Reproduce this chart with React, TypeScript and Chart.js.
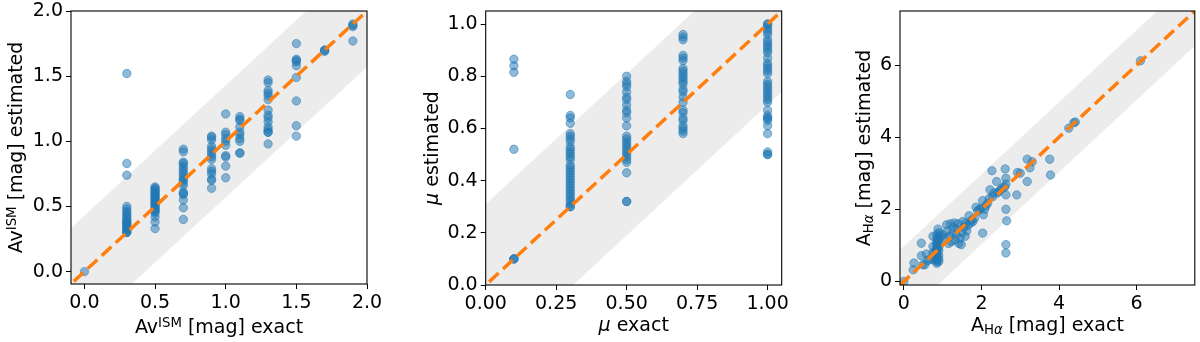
import React, { useEffect, useRef } from 'react';
import { Chart, registerables } from 'chart.js';

Chart.register(...registerables);

// ---------------- DATA ----------------
// Panel 1: Av^ISM exact levels and estimated values per level
const avExactLevels = [0.0, 0.3, 0.5, 0.7, 0.9, 1.0, 1.1, 1.3, 1.5, 1.7, 1.9];
const avEstimated = [
  [0.0],
  [1.52, 0.83, 0.74, 0.5, 0.48, 0.46, 0.45, 0.43, 0.42, 0.4, 0.39, 0.38, 0.37, 0.36, 0.35, 0.34, 0.33, 0.32, 0.31, 0.3, 0.3],
  [0.65, 0.64, 0.63, 0.62, 0.61, 0.6, 0.59, 0.58, 0.57, 0.56, 0.55, 0.54, 0.53, 0.52, 0.51, 0.5, 0.49, 0.48, 0.47, 0.46, 0.45, 0.42, 0.38, 0.33],
  [0.94, 0.92, 0.84, 0.83, 0.81, 0.79, 0.77, 0.75, 0.73, 0.71, 0.7, 0.68, 0.66, 0.61, 0.6, 0.59, 0.55, 0.49, 0.4],
  [1.04, 1.03, 1.01, 0.96, 0.94, 0.92, 0.9, 0.88, 0.86, 0.79, 0.77, 0.75, 0.71, 0.7, 0.64],
  [1.21, 1.07, 1.05, 1.02, 1.0, 0.97, 0.89, 0.88, 0.81, 0.72],
  [1.19, 1.17, 1.16, 1.11, 1.07, 1.05, 1.02, 1.0, 0.91, 0.91],
  [1.47, 1.45, 1.39, 1.37, 1.35, 1.32, 1.24, 1.2, 1.18, 1.15, 1.11, 1.09, 1.07, 1.07, 0.98],
  [1.75, 1.63, 1.62, 1.61, 1.58, 1.49, 1.31, 1.12, 1.04],
  [1.7, 1.7, 1.69],
  [1.9, 1.89, 1.88, 1.77],
];

// Panel 2: mu exact levels and estimated values per level
const muExactLevels = [0.1, 0.3, 0.5, 0.7, 1.0];
const muEstimated = [
  [0.865, 0.84, 0.815, 0.52, 0.1, 0.1, 0.1],
  [0.73, 0.65, 0.64, 0.62, 0.58, 0.57, 0.56, 0.55, 0.53, 0.52, 0.51, 0.5, 0.49, 0.48, 0.46, 0.45, 0.44, 0.43, 0.42, 0.41, 0.4, 0.39, 0.38, 0.37, 0.36, 0.35, 0.34, 0.33, 0.32, 0.31, 0.3, 0.3],
  [0.8, 0.78, 0.77, 0.76, 0.74, 0.72, 0.71, 0.69, 0.67, 0.66, 0.64, 0.61, 0.57, 0.56, 0.55, 0.54, 0.53, 0.52, 0.51, 0.5, 0.49, 0.48, 0.47, 0.43, 0.32, 0.32],
  [0.96, 0.95, 0.94, 0.88, 0.87, 0.86, 0.83, 0.82, 0.81, 0.8, 0.79, 0.78, 0.77, 0.75, 0.74, 0.72, 0.7, 0.67, 0.66, 0.64, 0.63, 0.61, 0.6, 0.59, 0.58],
  [1.0, 1.0, 0.99, 0.98, 0.97, 0.96, 0.94, 0.93, 0.92, 0.91, 0.9, 0.89, 0.87, 0.85, 0.84, 0.83, 0.82, 0.81, 0.78, 0.77, 0.76, 0.75, 0.74, 0.73, 0.72, 0.71, 0.7, 0.67, 0.65, 0.64, 0.64, 0.63, 0.61, 0.58, 0.51, 0.5, 0.5],
];

// Panel 3: A_Halpha exact / estimated pairs
const haExact = [
  0.0, 0.24, 0.26, 0.45, 0.45, 0.49, 0.54, 0.58, 0.62, 0.67, 0.75, 0.75, 0.75, 0.75, 0.79,
  0.85, 0.85, 0.85, 0.85, 0.85, 0.85, 0.85, 0.85, 0.85, 0.85, 0.85, 0.85, 0.85, 0.85,
  0.9, 0.9, 0.9, 0.9, 0.9, 0.9, 0.9, 0.9, 0.9, 0.88,
  0.97, 1.0, 1.05, 1.1, 1.12, 1.15, 1.18, 1.2, 1.22, 1.25, 1.28, 1.3, 1.32, 1.35, 1.38, 1.4,
  1.42, 1.45, 1.48, 1.5, 1.52, 1.55, 1.58, 1.6, 1.62, 1.65, 1.68, 1.72, 1.75, 1.78, 1.82,
  1.86, 1.9, 1.95, 1.99, 2.03, 2.03, 2.05, 2.08, 2.12, 2.16, 2.2, 2.22, 2.27, 2.29, 2.32,
  2.39, 2.41, 2.45, 2.5, 2.55, 2.6, 2.61, 2.63, 2.63, 2.63, 2.63, 2.65, 2.63, 2.63,
  2.91, 2.93, 3.0, 3.18, 3.18, 3.25, 3.31, 3.76, 3.78, 4.25, 4.38, 4.42, 6.1,
];
const haEstimated = [
  0.0, 0.32, 0.51, 1.06, 0.71, 0.46, 0.46, 0.76, 0.58, 0.62, 0.6, 0.8, 0.97, 1.25, 0.78,
  0.5, 0.55, 0.6, 0.65, 0.7, 0.76, 0.82, 0.88, 0.94, 1.0, 1.06, 1.12, 1.2, 1.3,
  0.55, 0.62, 0.72, 0.85, 0.95, 1.05, 1.15, 1.25, 1.35, 1.45,
  1.25, 1.3, 1.2, 1.57, 1.4, 1.05, 1.25, 1.6, 1.1, 1.35, 1.5, 1.62, 1.15, 1.3, 1.45, 1.6,
  1.05, 1.2, 1.02, 1.35, 1.66, 1.5, 1.25, 1.62, 1.4, 1.55, 1.82, 1.62, 1.7, 1.66, 1.75,
  2.06, 1.95, 2.0, 2.03, 1.34, 2.24, 1.85, 2.0, 2.1, 2.17, 2.3, 2.54, 3.07, 2.35, 2.45,
  2.77, 2.45, 2.5, 2.55, 2.6, 2.62, 3.12, 2.86, 2.7, 2.4, 2.0, 1.68, 1.02, 0.79,
  2.4, 3.02, 3.0, 3.39, 2.77, 3.15, 3.32, 3.39, 2.95, 4.25, 4.4, 4.42, 6.12,
];

// Axis ranges and ticks
const avRange = [-0.095, 2.0];
const avTicks = [0.0, 0.5, 1.0, 1.5, 2.0];
const muRange = [0.0, 1.05];
const muXTicks = [0.0, 0.25, 0.5, 0.75, 1.0];
const muYTicks = [0.0, 0.2, 0.4, 0.6, 0.8, 1.0];
const haRange = [-0.1, 7.5];
const haTicks = [0, 2, 4, 6];

// Tolerance band half-widths
const avBand = 0.43;
const muBand = 0.31;
const haBand = 0.97;

// ---------------- STYLE ----------------
const FONT = '"DejaVu Sans", sans-serif';
const FONT_SIZE = 19;
const POINT_COLOR = 'rgba(31,119,180,0.5)';
const LINE_COLOR = '#ff7f0e';
const BAND_COLOR = 'rgba(128,128,128,0.15)';

type Seg = { t: string; italic?: boolean; scale?: number; dy?: number };

function flatten(levels: number[], values: number[][]) {
  const pts: { x: number; y: number }[] = [];
  levels.forEach((lv, i) => values[i].forEach((v) => pts.push({ x: lv, y: v })));
  return pts;
}

function drawRich(ctx: CanvasRenderingContext2D, segs: Seg[], cx: number, cy: number, rotate: boolean) {
  ctx.save();
  ctx.fillStyle = '#000';
  ctx.textBaseline = 'alphabetic';
  ctx.textAlign = 'left';
  const fontFor = (s: Seg) => `${s.italic ? 'italic ' : ''}${FONT_SIZE * (s.scale || 1)}px ${FONT}`;
  let total = 0;
  const widths = segs.map((s) => {
    ctx.font = fontFor(s);
    const w = ctx.measureText(s.t).width;
    total += w;
    return w;
  });
  ctx.translate(cx, cy);
  if (rotate) ctx.rotate(-Math.PI / 2);
  let x = -total / 2;
  segs.forEach((s, i) => {
    ctx.font = fontFor(s);
    ctx.fillText(s.t, x, s.dy || 0);
    x += widths[i];
  });
  ctx.restore();
}

type PanelCfg = {
  points: { x: number; y: number }[];
  xRange: number[];
  yRange: number[];
  xTicks: number[];
  yTicks: number[];
  xDec: number;
  yDec: number;
  band: number;
  lineFrom: number;
  area: { L: number; R: number; T: number; B: number };
  xTitle: Seg[];
  yTitle: Seg[];
  xTitleY: number;
  yTitleX: number;
};

const SUP: Partial<Seg> = { scale: 0.7, dy: -6 };
const SUB: Partial<Seg> = { scale: 0.7, dy: 3 };

const panels: PanelCfg[] = [
  {
    points: flatten(avExactLevels, avEstimated),
    xRange: avRange,
    yRange: avRange,
    xTicks: avTicks,
    yTicks: avTicks,
    xDec: 1,
    yDec: 1,
    band: avBand,
    lineFrom: -0.075,
    area: { L: 71, R: 367, T: 11, B: 284 },
    xTitle: [{ t: 'Av' }, { t: 'ISM', ...SUP }, { t: ' [mag] exact' }],
    yTitle: [{ t: 'Av' }, { t: 'ISM', ...SUP }, { t: ' [mag] estimated' }],
    xTitleY: 333,
    yTitleX: 22,
  },
  {
    points: flatten(muExactLevels, muEstimated),
    xRange: muRange,
    yRange: muRange,
    xTicks: muXTicks,
    yTicks: muYTicks,
    xDec: 2,
    yDec: 1,
    band: muBand,
    lineFrom: 0.012,
    area: { L: 85.7, R: 381.7, T: 11, B: 285 },
    xTitle: [{ t: 'μ', italic: true }, { t: ' exact' }],
    yTitle: [{ t: 'μ', italic: true }, { t: ' estimated' }],
    xTitleY: 330.5,
    yTitleX: 37.5,
  },
  {
    points: haExact.map((x, i) => ({ x, y: haEstimated[i] })),
    xRange: haRange,
    yRange: haRange,
    xTicks: haTicks,
    yTicks: haTicks,
    xDec: 0,
    yDec: 0,
    band: haBand,
    lineFrom: -0.1,
    area: { L: 100, R: 396, T: 11, B: 285 },
    xTitle: [{ t: 'A' }, { t: 'H', ...SUB }, { t: 'α', italic: true, ...SUB }, { t: ' [mag] exact' }],
    yTitle: [{ t: 'A' }, { t: 'H', ...SUB }, { t: 'α', italic: true, ...SUB }, { t: ' [mag] estimated' }],
    xTitleY: 331,
    yTitleX: 70,
  },
];

const W = 400;
const H = 342;
const Y_AXIS_W = 60;
const X_AXIS_H = 40;

function Panel({ cfg }: { cfg: PanelCfg }) {
  const ref = useRef<HTMLCanvasElement | null>(null);
  useEffect(() => {
    if (!ref.current) return;
    const [xMin, xMax] = cfg.xRange;
    const [yMin, yMax] = cfg.yRange;
    const ext = (xMax - xMin) * 0.5;
    const bx0 = xMin - ext;
    const bx1 = xMax + ext;

    const zeroPad = (s: any) => {
      s.paddingLeft = 0;
      s.paddingRight = 0;
      s.paddingTop = 0;
      s.paddingBottom = 0;
    };

    const tickFont = { family: FONT, size: FONT_SIZE };
    const gridCfg = {
      display: true,
      drawOnChartArea: false,
      drawTicks: true,
      tickLength: 5,
      color: '#000',
      lineWidth: 1,
    };

    const decorations = {
      id: 'decorations',
      afterDraw(chart: any) {
        const { ctx, chartArea } = chart;
        ctx.save();
        ctx.strokeStyle = '#000';
        ctx.lineWidth = 1.1;
        ctx.strokeRect(chartArea.left, chartArea.top, chartArea.right - chartArea.left, chartArea.bottom - chartArea.top);
        ctx.restore();
        const cx = (chartArea.left + chartArea.right) / 2;
        const cy = (chartArea.top + chartArea.bottom) / 2;
        drawRich(ctx, cfg.xTitle, cx, cfg.xTitleY, false);
        drawRich(ctx, cfg.yTitle, cfg.yTitleX, cy, true);
      },
    };

    const chart = new Chart(ref.current, {
      type: 'line',
      data: {
        datasets: [
          {
            data: [
              { x: bx0, y: bx0 + cfg.band },
              { x: bx1, y: bx1 + cfg.band },
            ],
            borderWidth: 0,
            pointRadius: 0,
            fill: false,
            order: 3,
          },
          {
            data: [
              { x: bx0, y: bx0 - cfg.band },
              { x: bx1, y: bx1 - cfg.band },
            ],
            borderWidth: 0,
            pointRadius: 0,
            backgroundColor: BAND_COLOR,
            fill: '-1',
            order: 3,
          },
          {
            data: cfg.points,
            showLine: false,
            pointRadius: 4.2,
            pointBorderWidth: 1,
            pointBackgroundColor: POINT_COLOR,
            pointBorderColor: POINT_COLOR,
            order: 2,
          },
          {
            data: [
              { x: cfg.lineFrom, y: cfg.lineFrom },
              { x: bx1, y: bx1 },
            ],
            borderColor: LINE_COLOR,
            borderWidth: 3.5,
            borderDash: [13, 6],
            pointRadius: 0,
            fill: false,
            order: 1,
          },
        ],
      } as any,
      options: {
        animation: false,
        responsive: false,
        events: [],
        layout: {
          padding: {
            left: cfg.area.L - Y_AXIS_W,
            right: W - cfg.area.R,
            top: cfg.area.T,
            bottom: H - cfg.area.B - X_AXIS_H,
          },
        },
        plugins: {
          legend: { display: false },
          tooltip: { enabled: false },
        },
        scales: {
          x: {
            type: 'linear',
            min: xMin,
            max: xMax,
            afterBuildTicks: (s: any) => {
              s.ticks = cfg.xTicks.map((v) => ({ value: v }));
            },
            afterFit: (s: any) => {
              s.height = X_AXIS_H;
              zeroPad(s);
            },
            ticks: {
              font: tickFont,
              color: '#000',
              padding: 3,
              maxRotation: 0,
              autoSkip: false,
              callback: (v: any) => Number(v).toFixed(cfg.xDec),
            },
            grid: gridCfg,
            border: { display: false },
          },
          y: {
            type: 'linear',
            min: yMin,
            max: yMax,
            afterBuildTicks: (s: any) => {
              s.ticks = cfg.yTicks.map((v) => ({ value: v }));
            },
            afterFit: (s: any) => {
              s.width = Y_AXIS_W;
              zeroPad(s);
            },
            ticks: {
              font: tickFont,
              color: '#000',
              padding: 3,
              autoSkip: false,
              callback: (v: any) => Number(v).toFixed(cfg.yDec),
            },
            grid: gridCfg,
            border: { display: false },
          },
        },
      } as any,
      plugins: [decorations],
    });
    return () => chart.destroy();
  }, [cfg]);
  return <canvas ref={ref} width={W} height={H} style={{ width: W, height: H, display: 'block' }} />;
}

export default function App() {
  return (
    <div style={{ position: 'fixed', left: 0, top: 0, width: 1200, height: 342, background: '#fff' }}>
      {panels.map((p, i) => (
        <div key={i} style={{ position: 'absolute', left: i * W, top: 0, width: W, height: H }}>
          <Panel cfg={p} />
        </div>
      ))}
    </div>
  );
}
